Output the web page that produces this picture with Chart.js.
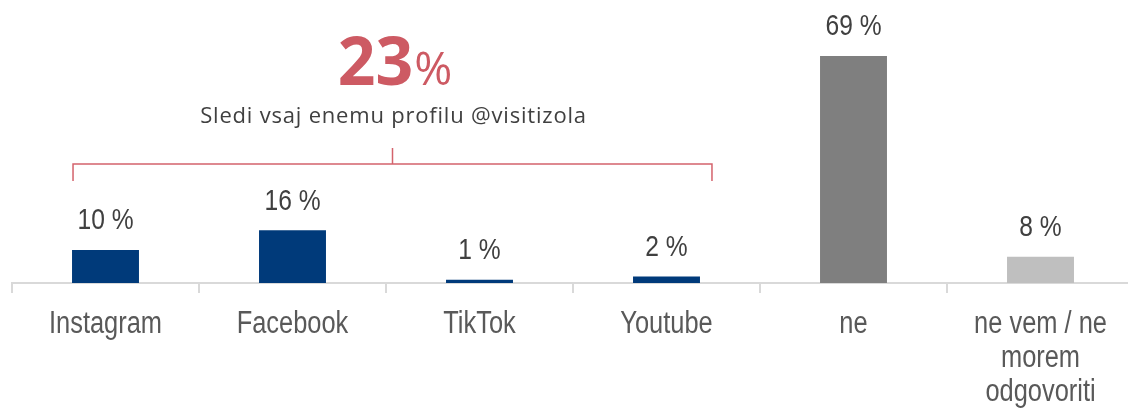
<!DOCTYPE html>
<html><head><meta charset="utf-8">
<script src="https://cdn.jsdelivr.net/npm/chart.js@4"></script>
<style>html,body{margin:0;padding:0;overflow:hidden;background:#fff}#wrap{width:1134px;height:410px;position:relative}</style>
</head><body><div id="wrap"><canvas id="c" width="1134" height="410"></canvas></div>
<script>
const categories = ['Instagram', 'Facebook', 'TikTok', 'Youtube', 'ne', ['ne vem / ne', 'morem', 'odgovoriti']];
const values = [10, 16, 1, 2, 69, 8];
const valueLabels = ['10 %', '16 %', '1 %', '2 %', '69 %', '8 %'];
const barColors = ['#003a7a', '#003a7a', '#003a7a', '#003a7a', '#7f7f7f', '#bfbfbf'];
const summaryNumber = '23';
const summaryUnit = '%';
const summaryText = 'Sledi vsaj enemu profilu @visitizola';
const bracketFrom = 0, bracketTo = 3;

const fam = '"Liberation Sans", Arial, sans-serif';
const squeeze = 0.82;

function narrowText(ctx, text, x, y) {
  ctx.save();
  ctx.translate(x, y);
  ctx.scale(squeeze, 1);
  ctx.fillText(text, 0, 0);
  ctx.restore();
}

const overlay = {
  id: 'overlay',
  afterDraw(chart) {
    const ctx = chart.ctx;
    const meta = chart.getDatasetMeta(0);
    const xs = chart.scales.x;
    ctx.save();
    ctx.textAlign = 'center';
    ctx.textBaseline = 'middle';
    // category labels
    ctx.fillStyle = '#595959';
    ctx.font = '31px ' + fam;
    chart.data.labels.forEach((lab, i) => {
      const lines = Array.isArray(lab) ? lab : [lab];
      const x = xs.getPixelForValue(i);
      lines.forEach((ln, j) => narrowText(ctx, ln, x, xs.top + 41 + 34 * j));
    });
    // value labels
    ctx.fillStyle = '#404040';
    ctx.font = '30px ' + fam;
    meta.data.forEach((bar, i) => narrowText(ctx, valueLabels[i], bar.x, bar.y - 29));
    // bracket
    const b0 = meta.data[bracketFrom], b1 = meta.data[bracketTo];
    const x0 = b0.x - b0.width / 2 + 1, x1 = b1.x + b1.width / 2 + 12;
    const xm = (x0 + x1) / 2;
    ctx.strokeStyle = '#d4636c';
    ctx.lineWidth = 1.5;
    ctx.beginPath();
    ctx.moveTo(x0, 181); ctx.lineTo(x0, 164); ctx.lineTo(x1, 164); ctx.lineTo(x1, 181);
    ctx.moveTo(xm, 164); ctx.lineTo(xm, 148);
    ctx.stroke();
    // big number
    ctx.fillStyle = '#cd5a63';
    ctx.textAlign = 'left';
    ctx.textBaseline = 'alphabetic';
    const fBig = 'bold 66px "Open Sans", sans-serif';
    const fUnit = '46px "Open Sans", sans-serif';
    ctx.font = fBig; const w1 = ctx.measureText(summaryNumber).width;
    ctx.font = fUnit; const w2 = ctx.measureText(summaryUnit).width;
    const start = xm + 2 - (w1 + w2) / 2;
    ctx.font = fBig; ctx.fillText(summaryNumber, start, 85);
    ctx.font = fUnit; ctx.fillText(summaryUnit, start + w1 + 1, 85);
    // subtitle
    ctx.fillStyle = '#404040';
    ctx.font = '22px "Open Sans", sans-serif';
    ctx.letterSpacing = '0.8px';
    ctx.textAlign = 'center';
    ctx.textBaseline = 'middle';
    ctx.fillText(summaryText, xm + 1, 117);
    ctx.restore();
  }
};

new Chart(document.getElementById('c'), {
  type: 'bar',
  data: {
    labels: categories,
    datasets: [{ data: values, backgroundColor: barColors, barPercentage: 0.358, categoryPercentage: 1 }]
  },
  options: {
    responsive: false,
    animation: false,
    layout: { padding: { left: 12, right: 0, top: 0, bottom: 0 } },
    plugins: { legend: { display: false }, tooltip: { enabled: false } },
    scales: {
      x: {
        afterFit(scale) { scale.height = 127; },
        grid: { display: true, drawOnChartArea: false, drawTicks: true, tickLength: 10, color: '#d9d9d9', lineWidth: 2, offset: true },
        border: { display: true, color: '#d9d9d9', width: 2 },
        ticks: { display: false }
      },
      y: { display: false, min: 0, max: 86 }
    }
  },
  plugins: [overlay]
});
</script>
</body></html>
